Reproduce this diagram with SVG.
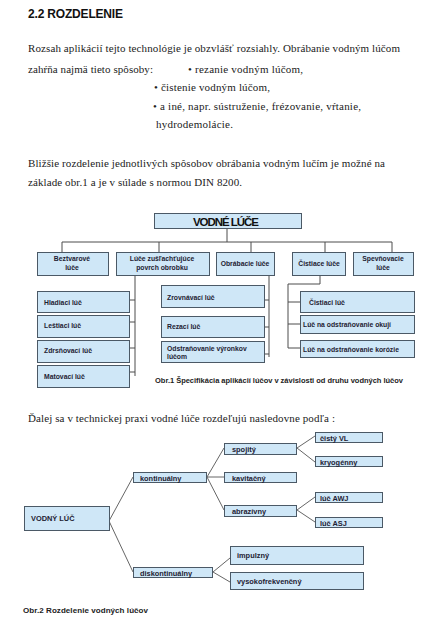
<svg xmlns="http://www.w3.org/2000/svg" width="433" height="634" viewBox="0 0 433 634">
<style>
.bg{fill:#ffffff}
.h{font-family:"Liberation Sans",Arial,sans-serif;font-weight:bold;font-size:12px;fill:#111}
.p{font-family:"Liberation Serif","Times New Roman",serif;font-size:11px;fill:#222}
.box{fill:#cfe7f7;stroke:#4b5966;stroke-width:1}
.t{font-family:"Liberation Sans",Arial,sans-serif;font-weight:bold;font-size:6.8px;fill:#1e2233}
.t2{font-family:"Liberation Sans",Arial,sans-serif;font-weight:bold;font-size:7.4px;fill:#1e2233}
.tc{font-family:"Liberation Sans",Arial,sans-serif;font-weight:bold;font-size:6.8px;fill:#1e2233;text-anchor:middle}
.big{font-family:"Liberation Sans",Arial,sans-serif;font-weight:bold;font-size:11.5px;fill:#111;text-anchor:middle}
.ln{fill:none;stroke:#4d4d4d;stroke-width:1}
.ln2{fill:none;stroke:#666;stroke-width:1}
.cap{font-family:"Liberation Sans",Arial,sans-serif;font-weight:bold;font-size:7.5px;fill:#222}
</style>
<rect class="bg" x="0" y="0" width="433" height="634"/>
<text class="h" x="28" y="18" textLength="95">2.2 ROZDELENIE</text>
<g id="paragraph">
<text class="p" x="28" y="52" textLength="372">Rozsah aplikácií tejto technológie je obzvlášť rozsiahly. Obrábanie vodným lúčom</text>
<text class="p" x="28" y="73" textLength="125">zahŕňa najmä tieto spôsoby:</text>
<text class="p" x="188" y="73" textLength="115">• rezanie vodným lúčom,</text>
<text class="p" x="154" y="91" textLength="116">• čistenie vodným lúčom,</text>
<text class="p" x="153" y="110" textLength="208">• a iné, napr. sústruženie, frézovanie, vŕtanie,</text>
<text class="p" x="156" y="128" textLength="77">hydrodemolácie.</text>
<text class="p" x="28" y="167" textLength="357">Bližšie rozdelenie jednotlivých spôsobov obrábania vodným lučím je možné na</text>
<text class="p" x="28" y="186" textLength="214">základe obr.1 a je v súlade s normou DIN 8200.</text>
</g>
<g id="connectors1">
<path class="ln" d="M227 228V242M62 242H392M62 242V252M159 242V252M251 242V252M325 242V252M392 242V252"/>
<path class="ln" d="M135 275V376M129 300H135M129 322H135M129 348H135M129 372H135"/>
<path class="ln" d="M269 275V357M264 300H269M264 327H269M264 354H269"/>
<path class="ln" d="M320 275V284H288V348M288 302H300M288 324H300M288 348H300"/>
</g>
<g id="n-vodne-luce"><rect class="box" x="154.5" y="213.5" width="147" height="15"/><text class="big" x="226" y="225.5" textLength="66">VODNÉ LÚČE</text></g>
<g id="n-beztvarove"><rect class="box" x="37.5" y="252.5" width="71" height="23"/><text class="tc" x="72" y="261">Beztvarové</text><text class="tc" x="72" y="270">lúče</text></g>
<g id="n-zuslachtujuce"><rect class="box" x="116.5" y="252.5" width="93" height="23"/><text class="tc" x="162" y="261">Lúče zušľachťujúce</text><text class="tc" x="162" y="270">povrch obrobku</text></g>
<g id="n-obrabacie"><rect class="box" x="216.5" y="252.5" width="58" height="23"/><text class="tc" x="245" y="266">Obrábacie lúče</text></g>
<g id="n-cistiace"><rect class="box" x="292.5" y="252.5" width="53" height="23"/><text class="tc" x="319" y="266">Čistiace lúče</text></g>
<g id="n-spevnovacie"><rect class="box" x="353.5" y="252.5" width="60" height="23"/><text class="tc" x="383" y="261">Spevňovacie</text><text class="tc" x="383" y="270">lúče</text></g>
<g id="n-hladiaci"><rect class="box" x="37.5" y="291.5" width="92" height="21"/><text class="t" x="44" y="305">Hladiaci  lúč</text></g>
<g id="n-lestiaci"><rect class="box" x="37.5" y="315.5" width="92" height="22"/><text class="t" x="44" y="328">Leštiaci lúč</text></g>
<g id="n-zdrsnovaci"><rect class="box" x="37.5" y="340.5" width="92" height="22"/><text class="t" x="44" y="353">Zdrsňovací lúč</text></g>
<g id="n-matovaci"><rect class="box" x="37.5" y="365.5" width="92" height="22"/><text class="t" x="44" y="379">Matovací lúč</text></g>
<g id="n-zrovnavaci"><rect class="box" x="161.5" y="285.5" width="103" height="22"/><text class="t" x="167" y="300">Zrovnávací lúč</text></g>
<g id="n-rezaci"><rect class="box" x="161.5" y="316.5" width="103" height="21"/><text class="t" x="167" y="329">Rezací lúč</text></g>
<g id="n-odstranovanie"><rect class="box" x="161.5" y="341.5" width="103" height="21"/><text class="t" x="167" y="351">Odstraňovanie výronkov</text><text class="t" x="167" y="359">lúčom</text></g>
<g id="n-cistiaci"><rect class="box" x="300.5" y="291.5" width="114" height="21"/><text class="t" x="309" y="305">Čistiaci lúč</text></g>
<g id="n-okuji"><rect class="box" x="300.5" y="315.5" width="114" height="18"/><text class="t" x="303" y="326.5">Lúč na odstraňovanie okují</text></g>
<g id="n-korozie"><rect class="box" x="300.5" y="340.5" width="114" height="17"/><text class="t" x="303" y="352">Lúč na odstraňovanie korózie</text></g>
<text class="cap" x="155" y="383" textLength="248">Obr.1 Špecifikácia aplikácií lúčov v závislosti od druhu vodných lúčov</text>
<text class="p" x="28" y="422" textLength="307">Ďalej sa v technickej praxi vodné lúče rozdeľujú nasledovne podľa :</text>
<g id="connectors2">
<path class="ln2" d="M109 521L133 477M109 521L133 572"/>
<path class="ln2" d="M207 477L224 448M207 477L224 477M207 477L224 510"/>
<path class="ln2" d="M297 448L315 436M297 448L315 462"/>
<path class="ln2" d="M297 510L315 497M297 510L315 522"/>
<path class="ln2" d="M213 572L230 558M213 572L230 582"/>
</g>
<g id="n-vodny-luc"><rect class="box" x="24.5" y="506.5" width="85" height="24"/><text class="t2" x="31" y="521">VODNÝ LÚČ</text></g>
<g id="n-kontinualny"><rect class="box" x="133.5" y="472.5" width="73" height="10"/><text class="t2" x="140" y="480.5">kontinuálny</text></g>
<g id="n-diskontinualny"><rect class="box" x="133.5" y="567.5" width="79" height="10"/><text class="t2" x="140" y="575.5">diskontinuálny</text></g>
<g id="n-spojity"><rect class="box" x="224.5" y="443.5" width="72" height="11"/><text class="t2" x="232" y="451.5">spojitý</text></g>
<g id="n-kavitacny"><rect class="box" x="224.5" y="472.5" width="72" height="10"/><text class="t2" x="232" y="480.5">kavitačný</text></g>
<g id="n-abrazivny"><rect class="box" x="224.5" y="505.5" width="72" height="11"/><text class="t2" x="232" y="513.5">abrazívny</text></g>
<g id="n-cisty-vl"><rect class="box" x="315.5" y="432.5" width="67" height="10"/><text class="t2" x="320" y="440.5">čistý VL</text></g>
<g id="n-kryogenny"><rect class="box" x="315.5" y="456.5" width="67" height="10"/><text class="t2" x="320" y="464.5">kryogénny</text></g>
<g id="n-awj"><rect class="box" x="315.5" y="492.5" width="67" height="10"/><text class="t2" x="320" y="500.5">lúč AWJ</text></g>
<g id="n-asj"><rect class="box" x="315.5" y="517.5" width="67" height="10"/><text class="t2" x="320" y="525.5">lúč ASJ</text></g>
<g id="n-impulzny"><rect class="box" x="230.5" y="546.5" width="133" height="18"/><text class="t2" x="237" y="558">impulzný</text></g>
<g id="n-vysokofrekvencny"><rect class="box" x="230.5" y="572.5" width="133" height="17"/><text class="t2" x="237" y="583.5">vysokofrekvenčný</text></g>
<text class="cap" x="23" y="613" textLength="125" style="font-size:8px">Obr.2 Rozdelenie vodných lúčov</text>
</svg>
